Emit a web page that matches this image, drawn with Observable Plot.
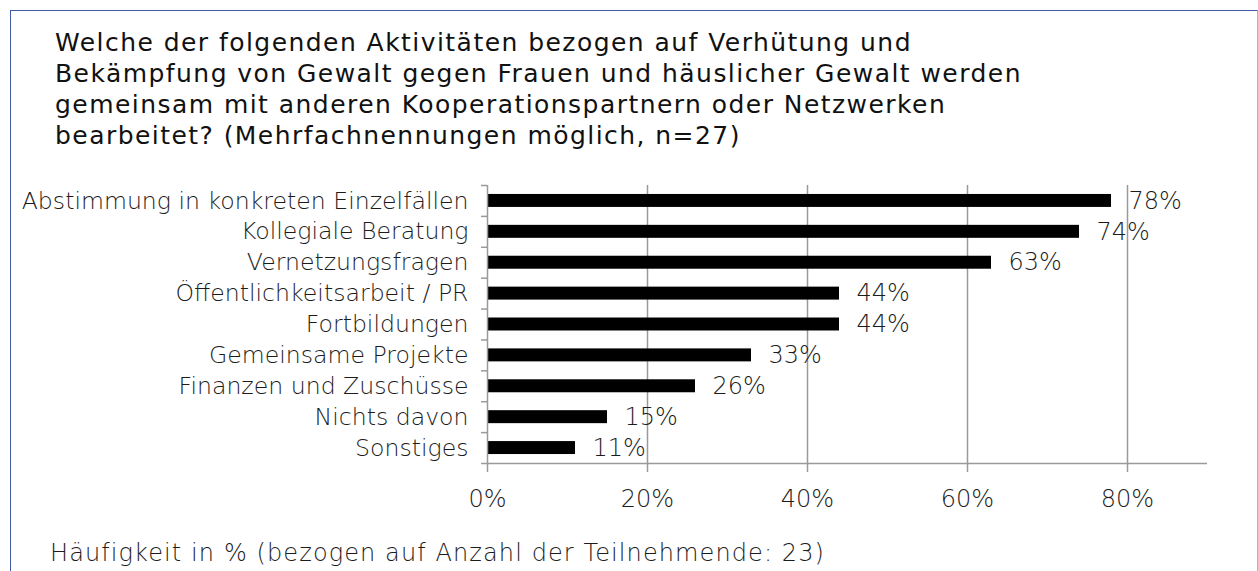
<!DOCTYPE html>
<html>
<head>
<meta charset="utf-8">
<script src="https://cdn.jsdelivr.net/npm/d3@7"></script>
<script src="https://cdn.jsdelivr.net/npm/@observablehq/plot@0.6"></script>
<style>
  html, body { margin: 0; padding: 0; background: #fff; width: 1258px; height: 571px; overflow: hidden; }
  #box { position: absolute; left: 10px; top: 10px; width: 1246px; height: 640px;
         border-left: 1px solid #3f5aa8; border-top: 1px solid #3f5aa8; border-right: 1px solid #aab2d6; }
  #title { position: absolute; left: 55px; top: 27px; font-family: "DejaVu Sans", sans-serif; font-size: 25px;
           line-height: 31px; letter-spacing: 1.45px; color: #111; width: 1180px; white-space: nowrap; }
  #chart { position: absolute; left: 0; top: 150px; }
  #chart svg { display: block; }
  #caption { position: absolute; left: 50px; top: 538px; font-family: "DejaVu Sans", sans-serif; font-weight: 200;
             font-size: 24px; line-height: 30px; letter-spacing: 1.1px; color: #1c1c1c; white-space: nowrap; }
</style>
</head>
<body>
<div id="box"></div>
<div id="title">Welche der folgenden Aktivitäten bezogen auf Verhütung und<br>Bekämpfung von Gewalt gegen Frauen und häuslicher Gewalt werden<br>gemeinsam mit anderen Kooperationspartnern oder Netzwerken<br>bearbeitet? (Mehrfachnennungen möglich, n=27)</div>
<div id="chart"></div>
<div id="caption">Häufigkeit in % (bezogen auf Anzahl der Teilnehmende: 23)</div>
<script>
const categories = [
  "Abstimmung in konkreten Einzelfällen",
  "Kollegiale Beratung",
  "Vernetzungsfragen",
  "Öffentlichkeitsarbeit / PR",
  "Fortbildungen",
  "Gemeinsame Projekte",
  "Finanzen und Zuschüsse",
  "Nichts davon",
  "Sonstiges"
];
const values = [78, 74, 63, 44, 44, 33, 26, 15, 11];
const xTicks = [0, 20, 40, 60, 80];
const xMax = 90;

const data = categories.map((c, i) => ({category: c, value: values[i]}));

const W = 1258, H = 385, mT = 35, mB = 72, mL = 487, mR = 51;
const step = (H - mT - mB) / categories.length;
const grey = "#9a9a9a";
const ink = "#1c1c1c";

const chart = Plot.plot({
  width: W, height: H,
  marginTop: mT, marginBottom: mB, marginLeft: mL, marginRight: mR,
  style: {fontFamily: "'DejaVu Sans', sans-serif", fontSize: "24px", color: ink, background: "transparent", fontWeight: 200},
  x: {domain: [0, xMax], label: null},
  y: {domain: categories, paddingInner: 0.58, paddingOuter: 0.29, round: false, label: null},
  marks: [
    Plot.ruleX(xTicks.filter(d => d > 0), {x: d => d, stroke: grey, strokeWidth: 1.5}),
    Plot.barX(data, {x: "value", y: "category", fill: "#000"}),
    Plot.ruleX([0], {stroke: grey, strokeWidth: 1.5}),
    Plot.ruleY(categories, {y: d => d, x1: 0, x2: 0, insetLeft: -6, dy: -step / 2, stroke: grey, strokeWidth: 1.5}),
    Plot.ruleY([categories[categories.length - 1]], {y: d => d, x1: 0, x2: xMax, insetLeft: -6, dy: step / 2, stroke: grey, strokeWidth: 1.5}),
    Plot.axisX({ticks: xTicks, tickFormat: d => d + "%", tickSize: 9, tickPadding: 17, stroke: grey, strokeWidth: 1.5, fill: ink, fontSize: 24, label: null}),
    Plot.axisY({tickSize: 0, tickPadding: 19, fill: ink, fontSize: 23.6, label: null}),
    Plot.text(data, {x: "value", y: "category", text: d => d.value + "%", dx: 17, textAnchor: "start", fill: ink, fontSize: 24})
  ]
});
document.getElementById("chart").appendChild(chart);
</script>
</body>
</html>
